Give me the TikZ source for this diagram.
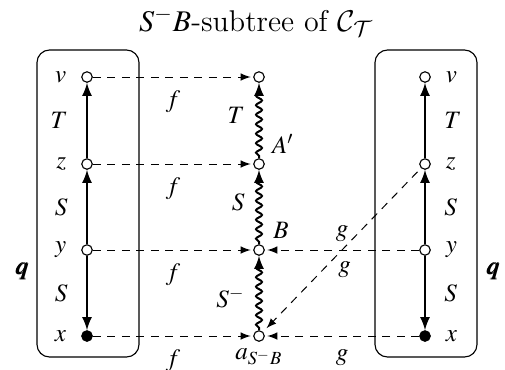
\documentclass[tikz,border=0pt]{standalone}
\usepackage{mathptmx}
\usepackage{bm}
\DeclareMathAlphabet{\mathcal}{OMS}{cmsy}{m}{n}
\usetikzlibrary{arrows,decorations.pathmorphing}

\tikzset{
  pt/.style={circle, draw, fill=white, inner sep=0pt, minimum size=4.2pt, line width=0.45pt},
  ptfull/.style={pt, fill=black},
  map/.style={-latex, line width=0.4pt, dash pattern=on 3.2pt off 2.6pt, shorten >=1pt},
  branch/.style={-latex, line width=0.8pt},
  wavy/.style={-latex, line width=0.8pt, decorate,
    decoration={snake, amplitude=1.2pt, segment length=3.8pt, pre length=1pt, post length=3pt}},
  chain/.style={draw, line width=0.45pt, rounded corners=5pt},
}

\begin{document}
\begin{tikzpicture}[x=0.4pt, y=-0.4pt]
\useasboundingbox (0,0) rectangle (505,369);

\node (title) at (256,22) {\large $S^{-}B$-subtree of $\mathcal{C}_{\mathcal{T}}$};

% left chain q
\draw[chain] (37,50) rectangle (139,357);
\node (lv) at (87, 77) [pt, label={[xshift=-2.5pt]left:$v$}] {};
\node (lz) at (87,164) [pt, label={[xshift=-2.5pt]left:$z$}] {};
\node (ly) at (87,250) [pt, label={[xshift=-2.5pt]left:$y$}] {};
\node (lx) at (87,336) [ptfull, label={[xshift=-2.5pt]left:$x$}] {};
\node (lq) at (22,271) {$\bm{q}$};

\draw[branch] (lz) -- node[left=4pt] {$T$} (lv);
\draw[branch] (ly) -- node[left=4pt] {$S$} (lz);
\draw[branch] (ly) -- node[left=4pt] {$S$} (lx);

% middle: the subtree
\node (mv) at (259, 77) [pt] {};
\node (mz) at (259,164) [pt] {};
\node (my) at (259,250) [pt] {};
\node (mx) at (259,336) [pt, label={[yshift=1pt]below:$a_{S^{-}B}$}] {};

\draw[wavy] (mz) -- node[left=2pt, yshift=2pt] {$T$} (mv);
\draw[wavy] (my) -- node[left=2pt, yshift=2pt] {$S$} (mz);
\draw[wavy] (mx) -- node[left=2pt, yshift=-2pt] {$S^{-}$} (my);
\node (lblA) at (283,144) {$A'$};
\node (lblB) at (281,230) {$B$};

% right chain q
\draw[chain] (375,50) rectangle (477,357);
\node (rv) at (425, 77) [pt, label={[xshift=2.5pt]right:$v$}] {};
\node (rz) at (425,164) [pt, label={[xshift=2.5pt]right:$z$}] {};
\node (ry) at (425,250) [pt, label={[xshift=2.5pt]right:$y$}] {};
\node (rx) at (425,336) [ptfull, label={[xshift=2.5pt]right:$x$}] {};
\node (rq) at (493,271) {$\bm{q}$};

\draw[branch] (rz) -- node[right=4pt] {$T$} (rv);
\draw[branch] (ry) -- node[right=4pt] {$S$} (rz);
\draw[branch] (ry) -- node[right=4pt] {$S$} (rx);

% maps f and g
\draw[map] (lv) -- node[midway, below=2pt] {$f$} (mv);
\draw[map] (lz) -- node[midway, below=2pt] {$f$} (mz);
\draw[map] (ly) -- node[midway, below=2pt] {$f$} (my);
\draw[map] (lx) -- node[midway, below=2pt] {$f$} (mx);
\draw[map] (ry) -- node[midway, above=0pt] {$g$} (my);
\draw[map] (rx) -- node[midway, below=2pt] {$g$} (mx);
\draw[map, shorten <=2pt, shorten >=2pt] (rz) -- node[midway, below=1pt, xshift=1pt] {$g$} (mx);

\end{tikzpicture}
\end{document}
